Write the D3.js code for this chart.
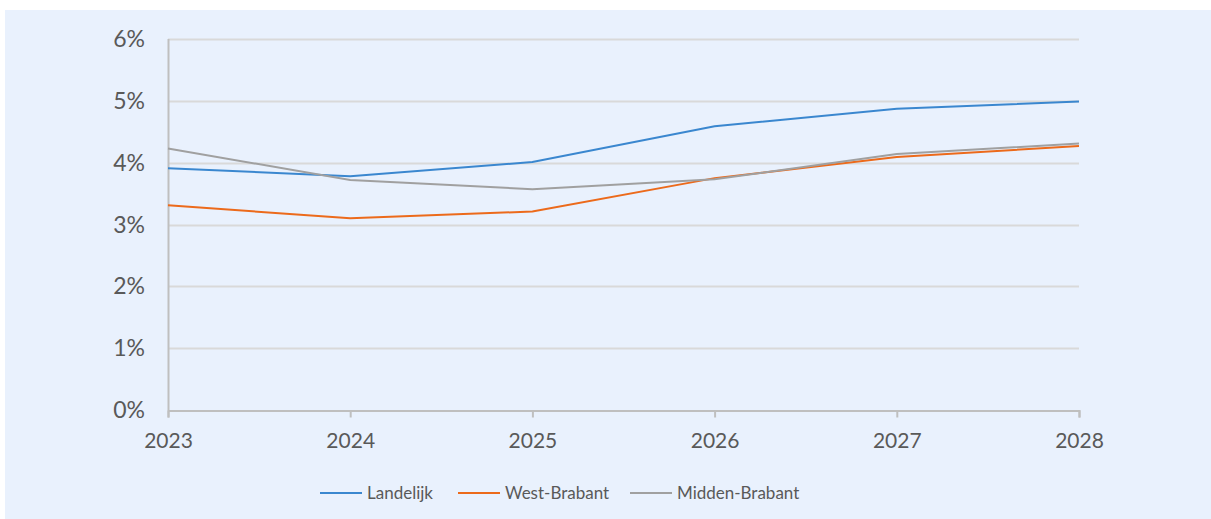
<!DOCTYPE html>
<html>
<head>
<meta charset="utf-8">
<script src="https://cdn.jsdelivr.net/npm/d3@7"></script>
<style>
    html, body { margin: 0; padding: 0; background: #ffffff; }
    svg { display: block; }
    text { font-family: "Lato", "Open Sans", sans-serif; fill: #595959; }
</style>
</head>
<body>
<div id="chart"></div>
<script>
"use strict";

const WIDTH = 1211;
const HEIGHT = 519;
const MARGIN = {top: 39, right: 132, bottom: 109, left: 168};
const BACKGROUND = "#e9f1fd";

const YEARS = [2023, 2024, 2025, 2026, 2027, 2028];
const Y_TICKS = [0, 1, 2, 3, 4, 5, 6];

const SERIES_NAMES = ["Landelijk", "West-Brabant", "Midden-Brabant"];
const SERIES_COLORS = ["#3a87cf", "#ec6a1b", "#a0a0a0"];

const LANDELIJK = [3.91, 3.78, 4.01, 4.59, 4.87, 4.99];
const WEST_BRABANT = [3.31, 3.10, 3.21, 3.75, 4.09, 4.27];
const MIDDEN_BRABANT = [4.23, 3.72, 3.57, 3.73, 4.14, 4.31];

const SERIES_VALUES = [LANDELIJK, WEST_BRABANT, MIDDEN_BRABANT];

function createSvg(parent) {
    const svg = d3.select(parent).append("svg")
        .attr("width", WIDTH)
        .attr("height", HEIGHT);

    svg.append("rect")
        .attr("x", 5)
        .attr("y", 10)
        .attr("width", WIDTH - 5)
        .attr("height", HEIGHT - 10)
        .attr("fill", BACKGROUND);

    return svg;
}

function drawChart() {
    const svg = createSvg(document.getElementById("chart"));

    const x = d3.scaleLinear()
        .domain([YEARS[0], YEARS[YEARS.length - 1]])
        .range([MARGIN.left, WIDTH - MARGIN.right]);

    const y = d3.scaleLinear()
        .domain([0, 6])
        .range([HEIGHT - MARGIN.bottom, MARGIN.top]);

    // gridlines
    svg.append("g")
        .selectAll("line")
        .data(Y_TICKS.filter(function (d) { return d > 0; }))
        .enter()
        .append("line")
        .attr("x1", x.range()[0])
        .attr("x2", x.range()[1])
        .attr("y1", function (d) { return Math.round(y(d)) + 0.5; })
        .attr("y2", function (d) { return Math.round(y(d)) + 0.5; })
        .style("stroke", "#d9d9d9")
        .style("stroke-width", 2);

    // y labels
    svg.append("g")
        .selectAll("text")
        .data(Y_TICKS)
        .enter()
        .append("text")
        .attr("x", 145)
        .attr("y", function (d) { return y(d) + 8; })
        .attr("text-anchor", "end")
        .style("font-size", "23px")
        .text(function (d) { return d + "%"; });

    // x axis
    const xAxis = d3.axisBottom(x)
        .tickValues(YEARS)
        .tickFormat(d3.format("d"))
        .tickSize(7)
        .tickPadding(16);

    const axisG = svg.append("g")
        .attr("transform", "translate(0," + (Math.round(y(0)) + 0.5) + ")")
        .call(xAxis);
    axisG.select(".domain").style("stroke", "#bfbfbf").style("stroke-width", 2);
    axisG.selectAll(".tick line").style("stroke", "#bfbfbf").style("stroke-width", 2);
    axisG.selectAll(".tick text")
        .style("font-family", "\"Lato\", \"Open Sans\", sans-serif")
        .style("font-size", "21px")
        .style("fill", "#595959");

    // y axis line
    svg.append("line")
        .attr("x1", x.range()[0] + 0.5)
        .attr("x2", x.range()[0] + 0.5)
        .attr("y1", y(6))
        .attr("y2", y(0))
        .style("stroke", "#bfbfbf")
        .style("stroke-width", 2);

    // lines
    const line = d3.line()
        .x(function (d, i) { return x(YEARS[i]); })
        .y(function (d) { return y(d); });

    svg.append("g")
        .selectAll("path")
        .data(SERIES_VALUES)
        .enter()
        .append("path")
        .attr("d", line)
        .attr("fill", "none")
        .style("stroke", function (d, i) { return SERIES_COLORS[i]; })
        .style("stroke-width", 2);

    // legend
    const LEGEND_X = [320, 458, 630];
    const legend = svg.append("g")
        .selectAll("g")
        .data(SERIES_NAMES)
        .enter()
        .append("g")
        .attr("transform", function (d, i) { return "translate(" + LEGEND_X[i] + ",493)"; });

    legend.append("line")
        .attr("x1", 0)
        .attr("x2", 42)
        .style("stroke", function (d, i) { return SERIES_COLORS[i]; })
        .style("stroke-width", 2);

    legend.append("text")
        .attr("x", 47)
        .attr("y", 6)
        .style("font-size", "17px")
        .text(function (d) { return d; });
}

drawChart();
</script>
</body>
</html>
